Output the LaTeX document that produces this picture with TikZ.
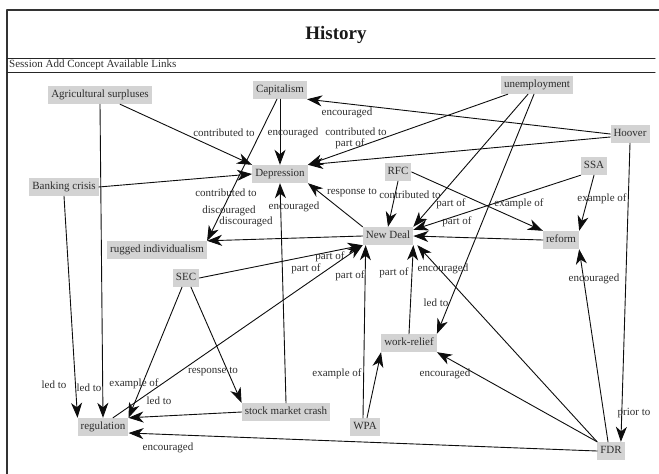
\documentclass[tikz,border=0pt]{standalone}
\usepackage{fontspec}
\setmainfont{Liberation Serif}
\usetikzlibrary{arrows.meta}
\definecolor{boxgray}{RGB}{211,211,211}
\definecolor{inkgray}{RGB}{45,45,45}

\begin{document}
\begin{tikzpicture}[x=1pt, y=-1pt, font=\fontsize{11}{13}\selectfont, line join=round,
			line cap=round, >={Stealth[length=15pt,width=11pt,inset=4.5pt]},
			concept/.style={fill=boxgray, text=inkgray, inner xsep=3pt, inner ysep=0pt,
				minimum height=18pt, text height=7.5pt, text depth=2.5pt},
			lbl/.style={text=inkgray, inner sep=0pt},
			link/.style={->, line width=0.9pt, black!95}]
			\useasboundingbox (0,0) rectangle (659,474);
			% frame and menu bar
			\draw[line width=1.3pt, black!80] (7,474) -- (7,10) -- (659,10);
			\node[font=\bfseries\fontsize{19}{22}\selectfont, text=black!90] (title) at (336,35) {History};
			\draw[line width=1pt, black!85] (7,58) -- (655,58);
			\draw[line width=1pt, black!85] (7,72) -- (655,72);
			\node[lbl, anchor=west, font=\fontsize{11}{13}\selectfont] (menu) at (9,65) {Session Add Concept Available Links};
			
			% concepts
			\node[concept] (agr) at (100,95) {Agricultural surpluses};
			\node[concept] (cap) at (280,90) {Capitalism};
			\node[concept] (unemp) at (537,85) {unemployment};
			\node[concept] (hoover) at (630,134) {Hoover};
			\node[concept] (depr) at (280,174) {Depression};
			\node[concept] (bank) at (64,187) {Banking crisis};
			\node[concept] (rfc) at (398,172) {RFC};
			\node[concept] (ssa) at (594,166) {SSA};
			\node[concept] (newdeal) at (388,236) {New Deal};
			\node[concept] (reform) at (561,240) {reform};
			\node[concept] (rugged) at (157,250) {rugged individualism};
			\node[concept] (sec) at (186,278) {SEC};
			\node[concept] (workrelief) at (409,343) {work-relief};
			\node[concept] (smc) at (286,412) {stock market crash};
			\node[concept] (reg) at (103,427) {regulation};
			\node[concept] (wpa) at (365,427) {WPA};
			\node[concept] (fdr) at (611,451) {FDR};
			
			% links
			\draw[link] ([xshift=20pt]agr.south) -- (depr.north west);
			\draw[link] (agr.south) -- (reg.north);
			\draw[link] (bank.south) -- (reg.north west);
			\draw[link] (bank.east) -- (depr.west);
			\draw[link] (cap.south) -- (depr.north);
			\draw[link] ([xshift=-3pt]cap.south) -- (rugged.north east);
			\draw[link] (hoover.west) -- (cap.south east);
			\draw[link] ([yshift=-3pt]hoover.west) -- (depr.north east);
			\draw[link] ([xshift=7pt]unemp.south west) -- (depr.north east);
			\draw[link] ([xshift=-9pt]unemp.south) -- (newdeal.north east);
			\draw[link] ([xshift=-3pt]unemp.south) -- (workrelief.north east);
			\draw[link] (ssa.south west) -- ([yshift=-3pt]newdeal.north east);
			\draw[link] (ssa.south) -- (reform.north east);
			\draw[link] (rfc.south) -- (newdeal.north);
			\draw[link] (rfc.east) -- (reform.north west);
			\draw[link] (newdeal.north west) -- (depr.south east);
			\draw[link] (newdeal.west) -- (rugged.north east);
			\draw[link] (reform.west) -- (newdeal.east);
			\draw[link] (sec.east) -- (newdeal.south west);
			\draw[link] ([xshift=10pt]reg.north) -- (newdeal.south west);
			\draw[link] ([xshift=-2pt]wpa.north) -- ([xshift=3pt]newdeal.south west);
			\draw[link] ([xshift=2pt]wpa.north) -- (workrelief.south west);
			\draw[link] (workrelief.north) -- (newdeal.south east);
			\draw[link] (fdr.north west) -- ([xshift=4pt]newdeal.south east);
			\draw[link] (fdr.north west) -- (workrelief.south east);
			\draw[link] ([xshift=-3pt]fdr.north) -- (reform.south east);
			\draw[link] (fdr.west) -- ([yshift=-6pt]reg.east);
			\draw[link] (hoover.south) -- ([xshift=-4pt]fdr.north east);
			\draw[link] (smc.west) -- (reg.north east);
			\draw[link] (smc.north) -- (depr.south);
			\draw[link] ([xshift=5pt]sec.south) -- (smc.north west);
			\draw[link] ([xshift=-4pt]sec.south) -- (reg.north east);
			
			% link labels
			\node[lbl] (l1) at (224,133) {contributed to};
			\node[lbl] (l2) at (89,388) {led to};
			\node[lbl] (l3) at (54,385) {led to};
			\node[lbl] (l4) at (226,193) {contributed to};
			\node[lbl] (l5) at (293,133) {encouraged};
			\node[lbl] (l6) at (229,211) {discouraged};
			\node[lbl] (l7) at (347,113) {encouraged};
			\node[lbl] (l8) at (356,132) {contributed to};
			\node[lbl] (l9) at (350,144) {part of};
			\node[lbl] (l10) at (451,204) {part of};
			\node[lbl] (l11) at (436,303) {led to};
			\node[lbl] (l12) at (457,222) {part of};
			\node[lbl] (l13) at (602,199) {example of};
			\node[lbl] (l14) at (410,195) {contributed to};
			\node[lbl] (l15) at (519,204) {example of};
			\node[lbl] (l16) at (352,193) {response to};
			\node[lbl] (l17) at (246,222) {discouraged};
			\node[lbl] (l18) at (330,257) {part of};
			\node[lbl] (l19) at (306,269) {part of};
			\node[lbl] (l20) at (350,276) {part of};
			\node[lbl] (l21) at (337,374) {example of};
			\node[lbl] (l22) at (394,273) {part of};
			\node[lbl] (l23) at (443,269) {encouraged};
			\node[lbl] (l24) at (445,374) {encouraged};
			\node[lbl] (l25) at (594,279) {encouraged};
			\node[lbl] (l26) at (168,448) {encouraged};
			\node[lbl] (l27) at (634,413) {prior to};
			\node[lbl] (l28) at (159,401) {led to};
			\node[lbl] (l29) at (294,207) {encouraged};
			\node[lbl] (l30) at (213,372) {response to};
			\node[lbl] (l31) at (134,384) {example of};
		\end{tikzpicture}
\end{document}
